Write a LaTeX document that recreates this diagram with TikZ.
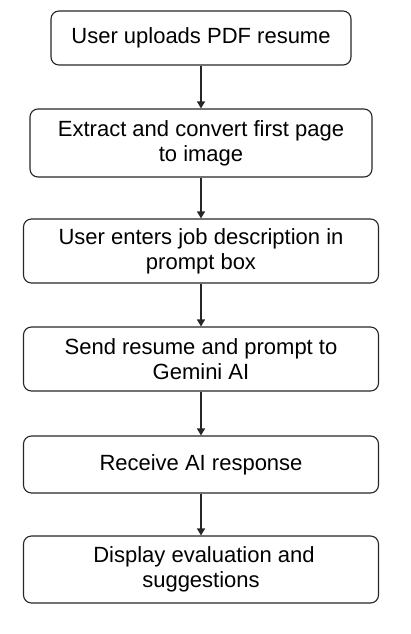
\documentclass[tikz,border=0pt]{standalone}
\usepackage{fontspec}
\setmainfont{Liberation Sans}
\usetikzlibrary{arrows.meta, positioning}
\tikzset{
  stepbox/.style={rectangle, draw=black!85, fill=white, rounded corners=8pt,
    line width=1.1pt, align=center, inner sep=2pt,
    font=\fontsize{22}{25}\selectfont},
  arrow/.style={-{Triangle[width=8pt,length=7pt]}, line width=1.1pt, color=black!85}
}
\begin{document}
\begin{tikzpicture}
  \useasboundingbox (0,0) rectangle (411pt,-634pt);

  % process steps, top to bottom
  \node[stepbox, minimum width=300pt, minimum height=54pt] (upload) at (201pt,-38pt) {User uploads PDF resume};
  \node[stepbox, minimum width=342pt, minimum height=68pt] (extract) at (201pt,-143pt) {Extract and convert first page\\to image};
  \node[stepbox, minimum width=355pt, minimum height=64pt] (jobdesc) at (201pt,-251pt) {User enters job description in\\prompt box};
  \node[stepbox, minimum width=355pt, minimum height=64pt] (send) at (201pt,-359pt) {Send resume and prompt to\\Gemini AI};
  \node[stepbox, minimum width=355pt, minimum height=57pt] (receive) at (201pt,-464.5pt) {Receive AI response};
  \node[stepbox, minimum width=355pt, minimum height=67pt] (display) at (201pt,-569.5pt) {\hspace{6pt}Display evaluation and\\suggestions};

  % flow arrows
  \draw[arrow] (upload) -- (extract);
  \draw[arrow] (extract) -- (jobdesc);
  \draw[arrow] (jobdesc) -- (send);
  \draw[arrow] (send) -- (receive);
  \draw[arrow] (receive) -- (display);
\end{tikzpicture}
\end{document}
